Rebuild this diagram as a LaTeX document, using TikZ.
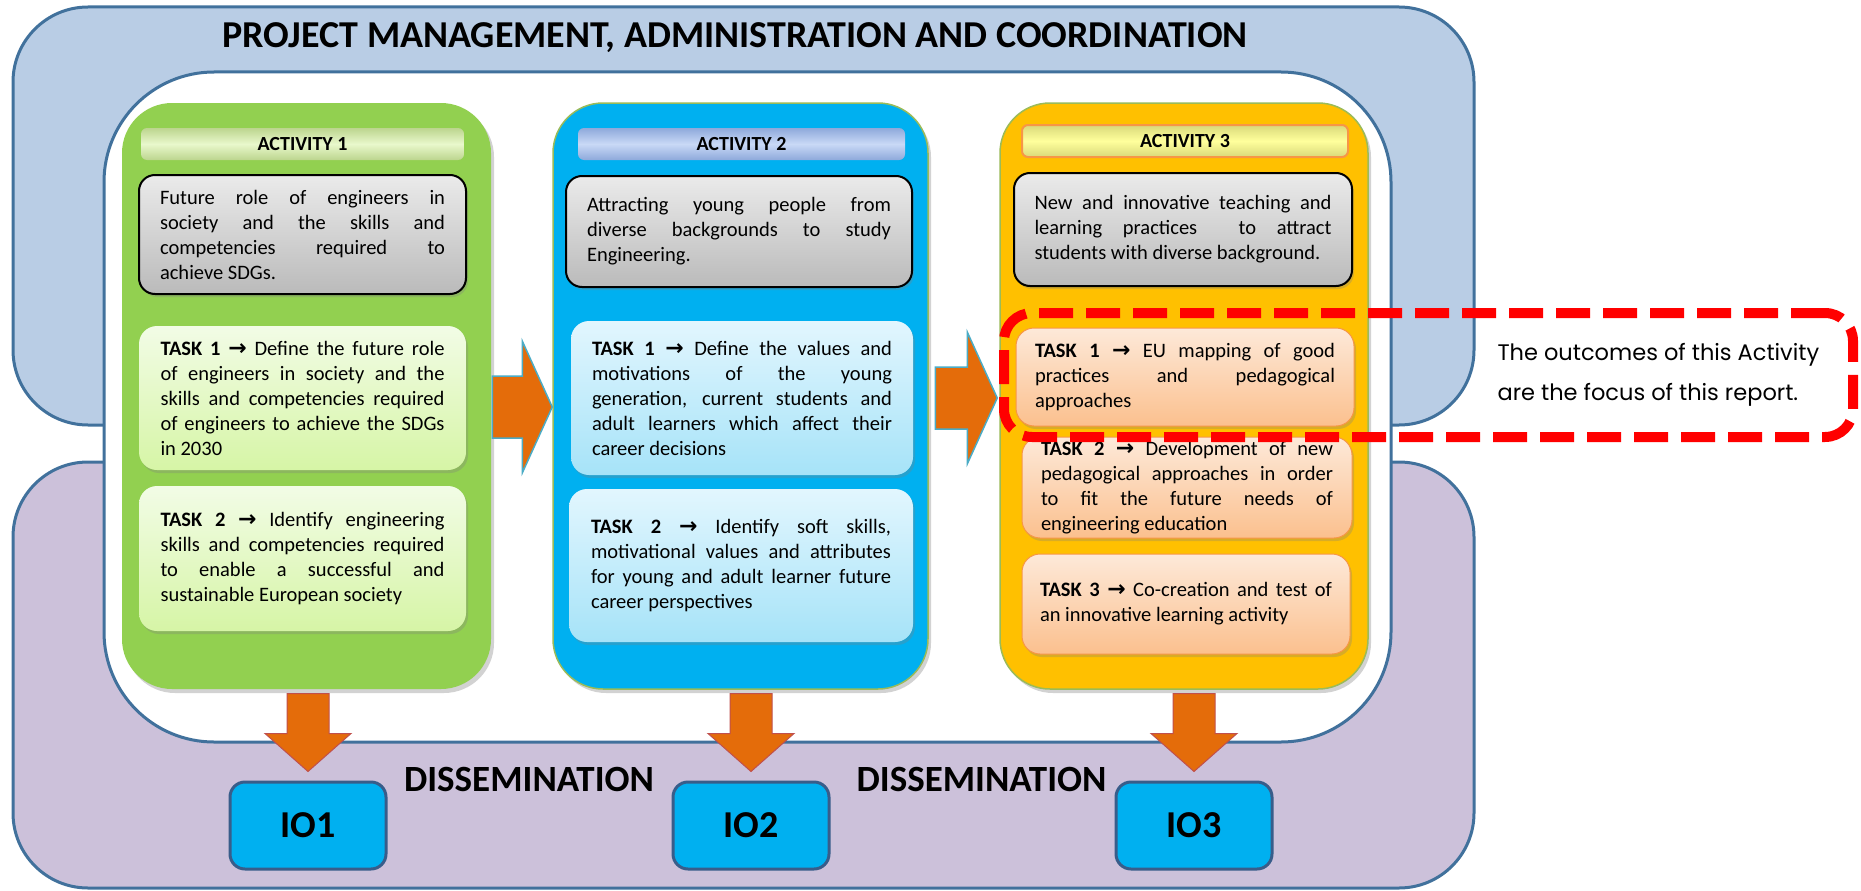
\documentclass[tikz,border=0pt]{standalone}
\usepackage{fontspec}
\setmainfont{Carlito}
\newfontfamily\calloutfont{Poppins}
\newfontfamily\arrowfont{DejaVu Sans}
\usetikzlibrary{calc,shadows}

\definecolor{frameblue}{HTML}{41719C}
\definecolor{mgmtblue}{HTML}{B9CDE5}
\definecolor{dissempurple}{HTML}{CCC1DA}
\definecolor{actgreen}{HTML}{92D050}
\definecolor{actblue}{HTML}{00B0F0}
\definecolor{actyellow}{HTML}{FFC000}
\definecolor{olivegreen}{HTML}{9BBB59}
\definecolor{arroworange}{HTML}{E46C0A}
\definecolor{arrowteal}{HTML}{4BACC6}
\definecolor{arrowred}{HTML}{C0504D}
\definecolor{ioframe}{HTML}{385D8A}
\definecolor{peachframe}{HTML}{F79646}
\definecolor{hdrgreenedge}{HTML}{BCD58E}
\definecolor{hdrgreenmid}{HTML}{E9F8CC}
\definecolor{hdrblueedge}{HTML}{8EA9DB}
\definecolor{hdrbluemid}{HTML}{C9D9F6}
\definecolor{hdryellowedge}{HTML}{D9D97A}
\definecolor{hdryellowmid}{HTML}{FFFF9C}
\definecolor{greentop}{HTML}{F2FCE6}
\definecolor{greenbottom}{HTML}{D6F5A6}
\definecolor{bluetop}{HTML}{E2F6FE}
\definecolor{bluebottom}{HTML}{A6E3F8}
\definecolor{peachtop}{HTML}{FDE9D9}
\definecolor{peachbottom}{HTML}{FBC08E}

\newcommand{\taskarrow}{{\arrowfont\bfseries\fontsize{22}{25}\selectfont →}}
\newcommand{\boxfont}{\fontsize{20.5}{25}\selectfont}

\tikzset{
  frame/.style={draw=frameblue, line width=3pt},
  column/.style={rounded corners=50pt, minimum height=586pt,
    drop shadow={shadow xshift=3pt, shadow yshift=-4pt, opacity=0.35}},
  header/.style={rounded corners=6pt, minimum height=32pt,
    font=\fontsize{20}{22}\selectfont\bfseries},
  descbox/.style={draw=black, line width=2pt, rounded corners=16pt,
    top color=black!8, bottom color=black!27, align=justify, font=\boxfont,
    drop shadow={shadow xshift=2pt, shadow yshift=-3pt, opacity=0.3}},
  taskbox/.style={rounded corners=18pt, align=justify, font=\boxfont,
    drop shadow={shadow xshift=2pt, shadow yshift=-3pt, opacity=0.3}},
  iobox/.style={draw=ioframe, line width=3pt, fill=actblue, rounded corners=15pt,
    minimum width=156pt, minimum height=87pt, font=\fontsize{38}{40}\selectfont\bfseries},
  flowarrow/.style={fill=arroworange, draw=arrowteal, line width=1.5pt},
  droparrow/.style={fill=arroworange, draw=arrowred, line width=1pt},
  bigtext/.style={font=\fontsize{37}{40}\selectfont\bfseries},
}

\begin{document}
\begin{tikzpicture}[x=1pt,y=-1pt]
\useasboundingbox (0,0) rectangle (1861,891);

% frames
\draw[frame, fill=mgmtblue, rounded corners=75pt] (13,7) rectangle (1474,425);
\draw[frame, fill=dissempurple, rounded corners=75pt] (13,462) rectangle (1474,888);
\draw[frame, fill=white, rounded corners=110pt] (104,72) rectangle (1391,742);

\node[font=\fontsize{38}{40}\selectfont\bfseries] (title) at (735,38) {PROJECT MANAGEMENT, ADMINISTRATION AND COORDINATION};

% activity columns
\node[column, fill=actgreen, minimum width=369pt] (act1) at (306.5,396) {};
\node[column, fill=actblue, draw=olivegreen, line width=1.5pt, minimum width=375pt] (act2) at (740.5,396) {};
\node[column, fill=actyellow, draw=olivegreen, line width=1.5pt, minimum width=368pt] (act3) at (1184,396) {};

\node[header, minimum width=323pt, top color=hdrgreenedge, bottom color=hdrgreenedge, middle color=hdrgreenmid] (hdr1) at (302.5,144) {ACTIVITY 1};
\node[header, minimum width=327pt, top color=hdrblueedge, bottom color=hdrblueedge, middle color=hdrbluemid] (hdr2) at (741.5,144) {ACTIVITY 2};
\node[header, minimum width=326pt, draw=peachframe, line width=2pt, top color=hdryellowedge, bottom color=hdryellowedge, middle color=hdryellowmid] (hdr3) at (1185,141) {ACTIVITY 3};

% what each activity is about
\node[descbox, minimum width=327pt, minimum height=119pt, text width=285pt] (desc1) at (302.5,234.5)
  {Future role of engineers in\linebreak society and the skills and\linebreak competencies required to\linebreak achieve SDGs.};
\node[descbox, minimum width=346pt, minimum height=111pt, text width=304pt] (desc2) at (739,231.5)
  {Attracting young people from\linebreak diverse backgrounds to study\linebreak Engineering.};
\node[descbox, minimum width=338pt, minimum height=113pt, text width=297pt] (desc3) at (1183,229.5)
  {New and innovative teaching and\linebreak learning practices\ \ to attract\linebreak students with diverse background.};

% tasks
\node[taskbox, top color=greentop, bottom color=greenbottom, minimum width=327pt, minimum height=144pt, text width=284pt] (task11) at (302.5,398)
  {\textbf{TASK 1 \taskarrow} Define the future role\linebreak of engineers in society and the\linebreak skills and competencies required\linebreak of engineers to achieve the SDGs\linebreak in 2030};
\node[taskbox, top color=greentop, bottom color=greenbottom, minimum width=327pt, minimum height=145pt, text width=284pt] (task12) at (302.5,558.5)
  {\textbf{TASK 2 \taskarrow} Identify engineering\linebreak skills and competencies required\linebreak to enable a successful and\linebreak sustainable European society};
\node[taskbox, top color=bluetop, bottom color=bluebottom, minimum width=342pt, minimum height=154pt, text width=300pt] (task21) at (742,398)
  {\textbf{TASK 1 \taskarrow} Define the values and\linebreak motivations of the young\linebreak generation, current students and\linebreak adult learners which affect their\linebreak career decisions};
\node[taskbox, top color=bluetop, bottom color=bluebottom, minimum width=344pt, minimum height=153pt, text width=300pt] (task22) at (741,565.5)
  {\textbf{TASK 2 \taskarrow} Identify soft skills,\linebreak motivational values and attributes\linebreak for young and adult learner future\linebreak career perspectives};
\node[taskbox, draw=peachframe, line width=1pt, top color=peachtop, bottom color=peachbottom, minimum width=338pt, minimum height=98pt, text width=300pt] (task31) at (1185,377)
  {\textbf{TASK 1 \taskarrow} EU mapping of good\linebreak practices and pedagogical\linebreak approaches};
\node[taskbox, draw=peachframe, line width=1pt, top color=peachtop, bottom color=peachbottom, minimum width=330pt, minimum height=101pt, text width=292pt] (task32) at (1187,487.5)
  {\textbf{TASK 2 \taskarrow} Development of new\linebreak pedagogical approaches in order\linebreak to fit the future needs of\linebreak engineering education};
\node[taskbox, draw=peachframe, line width=1pt, top color=peachtop, bottom color=peachbottom, minimum width=328pt, minimum height=100pt, text width=292pt] (task33) at (1186,604)
  {\textbf{TASK 3 \taskarrow} Co-creation and test of\linebreak an innovative learning activity};

% outputs
\node[iobox] (io1) at (308,825.5) {IO1};
\node[iobox] (io2) at (751,825.5) {IO2};
\node[iobox] (io3) at (1194,825.5) {IO3};
\node[bigtext] (dissem1) at (529,779) {DISSEMINATION};
\node[bigtext] (dissem2) at (981.5,779) {DISSEMINATION};

% arrows
\draw[flowarrow] ($(act2.west)+(0,11)$) -- ++(-30,-66) -- ++(0,35) -- ++(-30,0) -- ++(0,62) -- ++(30,0) -- ++(0,35) -- cycle;
\draw[flowarrow] ($(act3.west)+(-2,2)$) -- ++(-30,-66) -- ++(0,35) -- ++(-32,0) -- ++(0,62) -- ++(32,0) -- ++(0,35) -- cycle;
\draw[droparrow] ($(io1.north)+(0,-9)$) -- ++(-43,-38) -- ++(22,0) -- ++(0,-40) -- ++(42,0) -- ++(0,40) -- ++(22,0) -- cycle;
\draw[droparrow] ($(io2.north)+(0,-9)$) -- ++(-43,-38) -- ++(22,0) -- ++(0,-40) -- ++(42,0) -- ++(0,40) -- ++(22,0) -- cycle;
\draw[droparrow] ($(io3.north)+(0,-9)$) -- ++(-43,-38) -- ++(22,0) -- ++(0,-40) -- ++(42,0) -- ++(0,40) -- ++(22,0) -- cycle;

% focus of the report
\node[draw=red, line width=10pt, dash pattern=on 34pt off 13pt, rounded corners=28pt, minimum width=849pt, minimum height=124pt] (focus) at (1428.5,375) {};
\node[anchor=west, align=left, font=\calloutfont\fontsize{22.5}{40}\selectfont] (focustext) at (1494,375)
  {The outcomes of this Activity\\are the focus of this report.};
\end{tikzpicture}
\end{document}
